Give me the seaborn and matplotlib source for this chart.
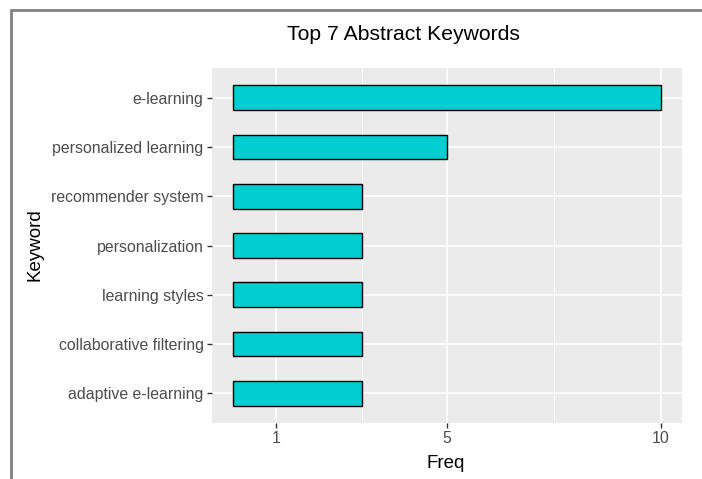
import matplotlib
matplotlib.use("Agg")
import matplotlib.pyplot as plt
from matplotlib.lines import Line2D
import seaborn as sns
import pandas as pd

keywords = ["e-learning", "personalized learning", "recommender system",
            "personalization", "learning styles", "collaborative filtering",
            "adaptive e-learning"]
freq = [10, 5, 3, 3, 3, 3, 3]
x_ticks = [1, 5, 10]
x_minor = [3, 7.5]

df = pd.DataFrame({"Keyword": keywords, "Freq": freq})

sns.set_theme(style="white")
plt.rcParams["font.family"] = ["Liberation Sans", "DejaVu Sans"]

W, H = 702, 479
fig = plt.figure(figsize=(W/100, H/100), dpi=100)
ax = fig.add_axes([212/W, 1-423/H, (682-212)/W, (423-68)/H])
ax.set_facecolor("#EBEBEB")

sns.barplot(data=df, x="Freq", y="Keyword", order=keywords, color="#00CED1",
            width=0.5, edgecolor="black", linewidth=1.0, saturation=1, ax=ax, zorder=3)

ax.set_xlim(-0.5, 10.5)
ax.set_ylim(6.6, -0.6)
ax.set_xticks(x_ticks)
ax.set_xticks(x_minor, minor=True)
ax.set_xticklabels([str(t) for t in x_ticks])
ax.grid(True, which="major", axis="both", color="white", linewidth=1.2, zorder=0)
ax.grid(True, which="minor", axis="x", color="white", linewidth=0.7, zorder=0)
ax.set_axisbelow(True)
for s in ax.spines.values():
    s.set_visible(False)
ax.tick_params(axis="both", which="major", left=True, bottom=True, length=3.5,
               width=1.0, color="#333333", labelcolor="#4D4D4D", labelsize=11.4, pad=2.6)
ax.tick_params(axis="x", which="minor", length=0)
ax.set_xlabel("Freq", fontsize=13.5, color="black")
ax.set_ylabel("Keyword", fontsize=13.5, color="black")
ax.xaxis.set_label_coords(446/W, 1-463/H, transform=fig.transFigure)
ax.yaxis.set_label_coords(35/W, 1-245/H, transform=fig.transFigure)
ax.xaxis.label.set_va("center")
ax.yaxis.label.set_va("center")

fig.text(403/W, 1-35/H, "Top 7 Abstract Keywords", ha="center", va="center",
         fontsize=15.2, color="black")

# screenshot-like border (top and left)
fig.add_artist(Line2D([11/W, 1.0], [1-10/H, 1-10/H], transform=fig.transFigure,
                      color="#808080", linewidth=2))
fig.add_artist(Line2D([11/W, 11/W], [0, 1-10/H], transform=fig.transFigure,
                      color="#808080", linewidth=2))

fig.savefig("out.png", dpi=100)
